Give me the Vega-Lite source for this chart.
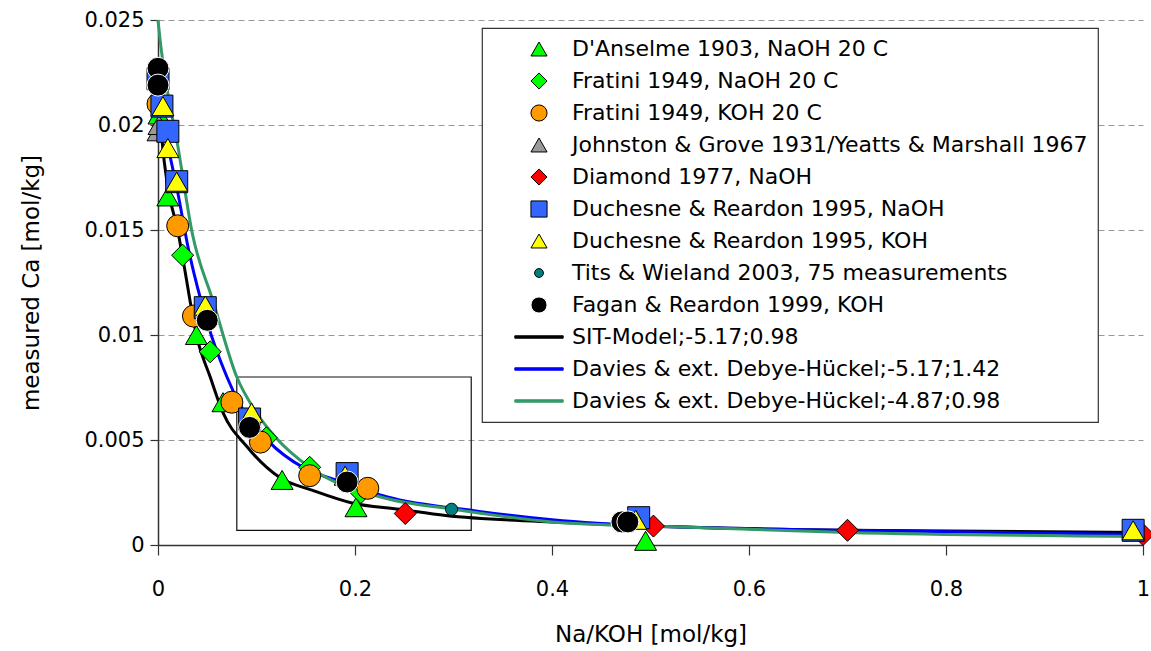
{
  "$schema": "https://vega.github.io/schema/vega-lite/v6.json",
  "width": 985,
  "height": 525,
  "autosize": {"type": "none"},
  "padding": {"left": 158, "top": 20, "right": 8, "bottom": 106},
  "background": "white",
  "config": {
    "view": {"stroke": null},
    "font": "DejaVu Sans",
    "axis": {
      "labelFont": "DejaVu Sans",
      "titleFont": "DejaVu Sans",
      "labelFontSize": 21,
      "titleFontSize": 23,
      "titleFontWeight": "normal",
      "labelColor": "#000",
      "titleColor": "#000",
      "domainColor": "#333",
      "domainWidth": 1.5,
      "tickColor": "#333",
      "tickWidth": 1.2
    },
    "legend": {
      "labelFont": "DejaVu Sans",
      "labelFontSize": 22,
      "labelColor": "#000",
      "labelLimit": 800,
      "strokeColor": "#333",
      "strokeWidth": 1.2,
      "fillColor": "white",
      "padding": 10,
      "rowPadding": 10,
      "symbolSize": 260,
      "symbolStrokeWidth": 1,
      "symbolOffset": 36,
      "labelOffset": 22,
      "symbolOpacity": 1
    }
  },
  "datasets": {
    "box": [{"x": 0.08, "xe": 0.318, "y": 0.0007, "ye": 0.008}],
    "curves": [
      {"series": "SIT-Model;-5.17;0.98", "x": 0.001, "y": 0.0212},
      {"series": "SIT-Model;-5.17;0.98", "x": 0.004, "y": 0.0193},
      {"series": "SIT-Model;-5.17;0.98", "x": 0.01, "y": 0.0170},
      {"series": "SIT-Model;-5.17;0.98", "x": 0.02, "y": 0.0150},
      {"series": "SIT-Model;-5.17;0.98", "x": 0.025, "y": 0.0137},
      {"series": "SIT-Model;-5.17;0.98", "x": 0.04, "y": 0.0098},
      {"series": "SIT-Model;-5.17;0.98", "x": 0.053, "y": 0.0080},
      {"series": "SIT-Model;-5.17;0.98", "x": 0.066, "y": 0.0063},
      {"series": "SIT-Model;-5.17;0.98", "x": 0.09, "y": 0.0047},
      {"series": "SIT-Model;-5.17;0.98", "x": 0.124, "y": 0.0032},
      {"series": "SIT-Model;-5.17;0.98", "x": 0.157, "y": 0.0026},
      {"series": "SIT-Model;-5.17;0.98", "x": 0.197, "y": 0.0020},
      {"series": "SIT-Model;-5.17;0.98", "x": 0.245, "y": 0.0017},
      {"series": "SIT-Model;-5.17;0.98", "x": 0.292, "y": 0.0014},
      {"series": "SIT-Model;-5.17;0.98", "x": 0.4, "y": 0.0011},
      {"series": "SIT-Model;-5.17;0.98", "x": 0.5, "y": 0.0009},
      {"series": "SIT-Model;-5.17;0.98", "x": 0.7, "y": 0.0007},
      {"series": "SIT-Model;-5.17;0.98", "x": 1.0, "y": 0.0006},
      {"series": "Davies & ext. Debye-Hückel;-5.17;1.42", "x": 0.001, "y": 0.0224},
      {"series": "Davies & ext. Debye-Hückel;-5.17;1.42", "x": 0.004, "y": 0.0203},
      {"series": "Davies & ext. Debye-Hückel;-5.17;1.42", "x": 0.01, "y": 0.0190},
      {"series": "Davies & ext. Debye-Hückel;-5.17;1.42", "x": 0.02, "y": 0.0168},
      {"series": "Davies & ext. Debye-Hückel;-5.17;1.42", "x": 0.03, "y": 0.0143},
      {"series": "Davies & ext. Debye-Hückel;-5.17;1.42", "x": 0.05, "y": 0.0106},
      {"series": "Davies & ext. Debye-Hückel;-5.17;1.42", "x": 0.07, "y": 0.0080},
      {"series": "Davies & ext. Debye-Hückel;-5.17;1.42", "x": 0.083, "y": 0.0067},
      {"series": "Davies & ext. Debye-Hückel;-5.17;1.42", "x": 0.113, "y": 0.0049},
      {"series": "Davies & ext. Debye-Hückel;-5.17;1.42", "x": 0.147, "y": 0.0037},
      {"series": "Davies & ext. Debye-Hückel;-5.17;1.42", "x": 0.187, "y": 0.0030},
      {"series": "Davies & ext. Debye-Hückel;-5.17;1.42", "x": 0.232, "y": 0.0023},
      {"series": "Davies & ext. Debye-Hückel;-5.17;1.42", "x": 0.326, "y": 0.0016},
      {"series": "Davies & ext. Debye-Hückel;-5.17;1.42", "x": 0.4, "y": 0.0012},
      {"series": "Davies & ext. Debye-Hückel;-5.17;1.42", "x": 0.5, "y": 0.0009},
      {"series": "Davies & ext. Debye-Hückel;-5.17;1.42", "x": 0.7, "y": 0.0007},
      {"series": "Davies & ext. Debye-Hückel;-5.17;1.42", "x": 1.0, "y": 0.0005},
      {"series": "Davies & ext. Debye-Hückel;-4.87;0.98", "x": 0.0, "y": 0.0250},
      {"series": "Davies & ext. Debye-Hückel;-4.87;0.98", "x": 0.002, "y": 0.0241},
      {"series": "Davies & ext. Debye-Hückel;-4.87;0.98", "x": 0.01, "y": 0.0215},
      {"series": "Davies & ext. Debye-Hückel;-4.87;0.98", "x": 0.019, "y": 0.0193},
      {"series": "Davies & ext. Debye-Hückel;-4.87;0.98", "x": 0.035, "y": 0.0148},
      {"series": "Davies & ext. Debye-Hückel;-4.87;0.98", "x": 0.056, "y": 0.0116},
      {"series": "Davies & ext. Debye-Hückel;-4.87;0.98", "x": 0.08, "y": 0.0080},
      {"series": "Davies & ext. Debye-Hückel;-4.87;0.98", "x": 0.1, "y": 0.0063},
      {"series": "Davies & ext. Debye-Hückel;-4.87;0.98", "x": 0.12, "y": 0.0051},
      {"series": "Davies & ext. Debye-Hückel;-4.87;0.98", "x": 0.154, "y": 0.0037},
      {"series": "Davies & ext. Debye-Hückel;-4.87;0.98", "x": 0.225, "y": 0.0023},
      {"series": "Davies & ext. Debye-Hückel;-4.87;0.98", "x": 0.3, "y": 0.0017},
      {"series": "Davies & ext. Debye-Hückel;-4.87;0.98", "x": 0.4, "y": 0.0011},
      {"series": "Davies & ext. Debye-Hückel;-4.87;0.98", "x": 0.5, "y": 0.0009},
      {"series": "Davies & ext. Debye-Hückel;-4.87;0.98", "x": 0.7, "y": 0.0006},
      {"series": "Davies & ext. Debye-Hückel;-4.87;0.98", "x": 1.0, "y": 0.0004}
    ],
    "pts": [
      {"series": "D'Anselme 1903, NaOH 20 C", "x": 0.001, "y": 0.0205},
      {"series": "D'Anselme 1903, NaOH 20 C", "x": 0.01, "y": 0.0166},
      {"series": "D'Anselme 1903, NaOH 20 C", "x": 0.039, "y": 0.0100},
      {"series": "D'Anselme 1903, NaOH 20 C", "x": 0.066, "y": 0.0068},
      {"series": "D'Anselme 1903, NaOH 20 C", "x": 0.126, "y": 0.0031},
      {"series": "D'Anselme 1903, NaOH 20 C", "x": 0.201, "y": 0.0018},
      {"series": "D'Anselme 1903, NaOH 20 C", "x": 0.495, "y": 0.0002},
      {"series": "Fratini 1949, NaOH 20 C", "x": 0.025, "y": 0.0138},
      {"series": "Fratini 1949, NaOH 20 C", "x": 0.053, "y": 0.0092},
      {"series": "Fratini 1949, NaOH 20 C", "x": 0.11, "y": 0.0051},
      {"series": "Fratini 1949, NaOH 20 C", "x": 0.154, "y": 0.0037},
      {"series": "Fratini 1949, NaOH 20 C", "x": 0.206, "y": 0.0025},
      {"series": "Fratini 1949, KOH 20 C", "x": 0.0, "y": 0.0210},
      {"series": "Fratini 1949, KOH 20 C", "x": 0.02, "y": 0.0152},
      {"series": "Fratini 1949, KOH 20 C", "x": 0.036, "y": 0.0109},
      {"series": "Fratini 1949, KOH 20 C", "x": 0.075, "y": 0.0068},
      {"series": "Fratini 1949, KOH 20 C", "x": 0.104, "y": 0.0049},
      {"series": "Fratini 1949, KOH 20 C", "x": 0.154, "y": 0.0033},
      {"series": "Fratini 1949, KOH 20 C", "x": 0.213, "y": 0.0027},
      {"series": "Johnston & Grove 1931/Yeatts & Marshall 1967", "x": 0.0, "y": 0.0197},
      {"series": "Johnston & Grove 1931/Yeatts & Marshall 1967", "x": 0.001, "y": 0.0200},
      {"series": "Diamond 1977, NaOH", "x": 0.251, "y": 0.0015},
      {"series": "Diamond 1977, NaOH", "x": 0.503, "y": 0.0009},
      {"series": "Diamond 1977, NaOH", "x": 0.70, "y": 0.0007},
      {"series": "Diamond 1977, NaOH", "x": 1.0, "y": 0.0005},
      {"series": "Duchesne & Reardon 1995, NaOH", "x": 0.0, "y": 0.0222},
      {"series": "Duchesne & Reardon 1995, NaOH", "x": 0.004, "y": 0.0209},
      {"series": "Duchesne & Reardon 1995, NaOH", "x": 0.01, "y": 0.0197},
      {"series": "Duchesne & Reardon 1995, NaOH", "x": 0.019, "y": 0.0173},
      {"series": "Duchesne & Reardon 1995, NaOH", "x": 0.048, "y": 0.0113},
      {"series": "Duchesne & Reardon 1995, NaOH", "x": 0.093, "y": 0.0060},
      {"series": "Duchesne & Reardon 1995, NaOH", "x": 0.192, "y": 0.0034},
      {"series": "Duchesne & Reardon 1995, NaOH", "x": 0.488, "y": 0.0013},
      {"series": "Duchesne & Reardon 1995, NaOH", "x": 0.99, "y": 0.0007},
      {"series": "Duchesne & Reardon 1995, KOH", "x": 0.005, "y": 0.0209},
      {"series": "Duchesne & Reardon 1995, KOH", "x": 0.01, "y": 0.0189},
      {"series": "Duchesne & Reardon 1995, KOH", "x": 0.019, "y": 0.0173},
      {"series": "Duchesne & Reardon 1995, KOH", "x": 0.048, "y": 0.0114},
      {"series": "Duchesne & Reardon 1995, KOH", "x": 0.095, "y": 0.0063},
      {"series": "Duchesne & Reardon 1995, KOH", "x": 0.19, "y": 0.0033},
      {"series": "Duchesne & Reardon 1995, KOH", "x": 0.485, "y": 0.0012},
      {"series": "Duchesne & Reardon 1995, KOH", "x": 0.99, "y": 0.0007},
      {"series": "Tits & Wieland 2003, 75 measurements", "x": 0.298, "y": 0.0017},
      {"series": "Fagan & Reardon 1999, KOH", "x": 0.0, "y": 0.0227},
      {"series": "Fagan & Reardon 1999, KOH", "x": 0.0, "y": 0.0219},
      {"series": "Fagan & Reardon 1999, KOH", "x": 0.05, "y": 0.0107},
      {"series": "Fagan & Reardon 1999, KOH", "x": 0.093, "y": 0.0056},
      {"series": "Fagan & Reardon 1999, KOH", "x": 0.192, "y": 0.0030},
      {"series": "Fagan & Reardon 1999, KOH", "x": 0.471, "y": 0.0011},
      {"series": "Fagan & Reardon 1999, KOH", "x": 0.477, "y": 0.0011}
    ]
  },
  "layer": [
    {
      "data": {"name": "box"},
      "mark": {"type": "rect", "fillOpacity": 0, "fill": "white", "stroke": "#111", "strokeWidth": 1.2},
      "encoding": {
        "x": {"field": "x", "type": "quantitative", "title": "Na/KOH [mol/kg]",
              "scale": {"domain": [0, 1], "nice": false},
              "axis": {"values": [0, 0.2, 0.4, 0.6, 0.8, 1], "format": "~g", "grid": false, "tickSize": 10, "labelPadding": 23, "titlePadding": 24, "labelFlush": false}},
        "x2": {"field": "xe"},
        "y": {"field": "y", "type": "quantitative", "title": "measured Ca [mol/kg]",
              "scale": {"domain": [0, 0.025], "nice": false},
              "axis": {"values": [0, 0.005, 0.01, 0.015, 0.02, 0.025], "format": "~g", "grid": true, "gridDash": [6, 4], "gridColor": "#999", "gridWidth": 1, "tickSize": 8, "labelPadding": 6, "titlePadding": 40}},
        "y2": {"field": "ye"}
      }
    },
    {
      "data": {"name": "curves"},
      "mark": {"type": "line", "interpolate": "monotone", "strokeWidth": 3},
      "encoding": {
        "x": {"field": "x", "type": "quantitative", "title": "Na/KOH [mol/kg]"},
        "y": {"field": "y", "type": "quantitative", "title": "measured Ca [mol/kg]"},
        "stroke": {"field": "series", "type": "nominal",
                   "legend": {"title": null, "orient": "none", "legendX": 324, "legendY": 8}}
      }
    },
    {
      "data": {"name": "pts"},
      "mark": {"type": "point", "filled": true, "opacity": 1, "size": 484, "strokeWidth": 1},
      "encoding": {
        "x": {"field": "x", "type": "quantitative", "title": "Na/KOH [mol/kg]"},
        "y": {"field": "y", "type": "quantitative", "title": "measured Ca [mol/kg]"},
        "color": {"field": "series", "type": "nominal",
                  "legend": {"title": null, "orient": "none", "legendX": 324, "legendY": 8},
                  "scale": {"domain": ["D'Anselme 1903, NaOH 20 C", "Fratini 1949, NaOH 20 C", "Fratini 1949, KOH 20 C", "Johnston & Grove 1931/Yeatts & Marshall 1967", "Diamond 1977, NaOH", "Duchesne & Reardon 1995, NaOH", "Duchesne & Reardon 1995, KOH", "Tits & Wieland 2003, 75 measurements", "Fagan & Reardon 1999, KOH", "SIT-Model;-5.17;0.98", "Davies & ext. Debye-Hückel;-5.17;1.42", "Davies & ext. Debye-Hückel;-4.87;0.98"],
                            "range": ["#00ff00", "#00ff00", "#ff9900", "#999999", "#ff0000", "#3366ff", "#ffff00", "#008080", "#000000", "#000000", "#0000ff", "#339966"]}},
        "shape": {"field": "series", "type": "nominal",
                  "legend": {"title": null, "orient": "none", "legendX": 324, "legendY": 8},
                  "scale": {"domain": ["D'Anselme 1903, NaOH 20 C", "Fratini 1949, NaOH 20 C", "Fratini 1949, KOH 20 C", "Johnston & Grove 1931/Yeatts & Marshall 1967", "Diamond 1977, NaOH", "Duchesne & Reardon 1995, NaOH", "Duchesne & Reardon 1995, KOH", "Tits & Wieland 2003, 75 measurements", "Fagan & Reardon 1999, KOH", "SIT-Model;-5.17;0.98", "Davies & ext. Debye-Hückel;-5.17;1.42", "Davies & ext. Debye-Hückel;-4.87;0.98"],
                            "range": ["triangle-up", "diamond", "circle", "triangle-up", "diamond", "square", "triangle-up", "M0.55,0A0.55,0.55,0,1,1,-0.55,0A0.55,0.55,0,1,1,0.55,0Z", "circle", "M-3,-0.15H3V0.15H-3Z", "M-3,-0.15H3V0.15H-3Z", "M-3,-0.15H3V0.15H-3Z"]}},
        "stroke": {"field": "series", "type": "nominal",
                   "legend": {"title": null, "orient": "none", "legendX": 324, "legendY": 8},
                   "scale": {"domain": ["D'Anselme 1903, NaOH 20 C", "Fratini 1949, NaOH 20 C", "Fratini 1949, KOH 20 C", "Johnston & Grove 1931/Yeatts & Marshall 1967", "Diamond 1977, NaOH", "Duchesne & Reardon 1995, NaOH", "Duchesne & Reardon 1995, KOH", "Tits & Wieland 2003, 75 measurements", "Fagan & Reardon 1999, KOH", "SIT-Model;-5.17;0.98", "Davies & ext. Debye-Hückel;-5.17;1.42", "Davies & ext. Debye-Hückel;-4.87;0.98"],
                             "range": ["#000000", "#000000", "#000000", "#000000", "#000000", "#000000", "#000000", "#000000", "#ffffff", "#000000", "#0000ff", "#339966"]}}
      }
    }
  ]
}
